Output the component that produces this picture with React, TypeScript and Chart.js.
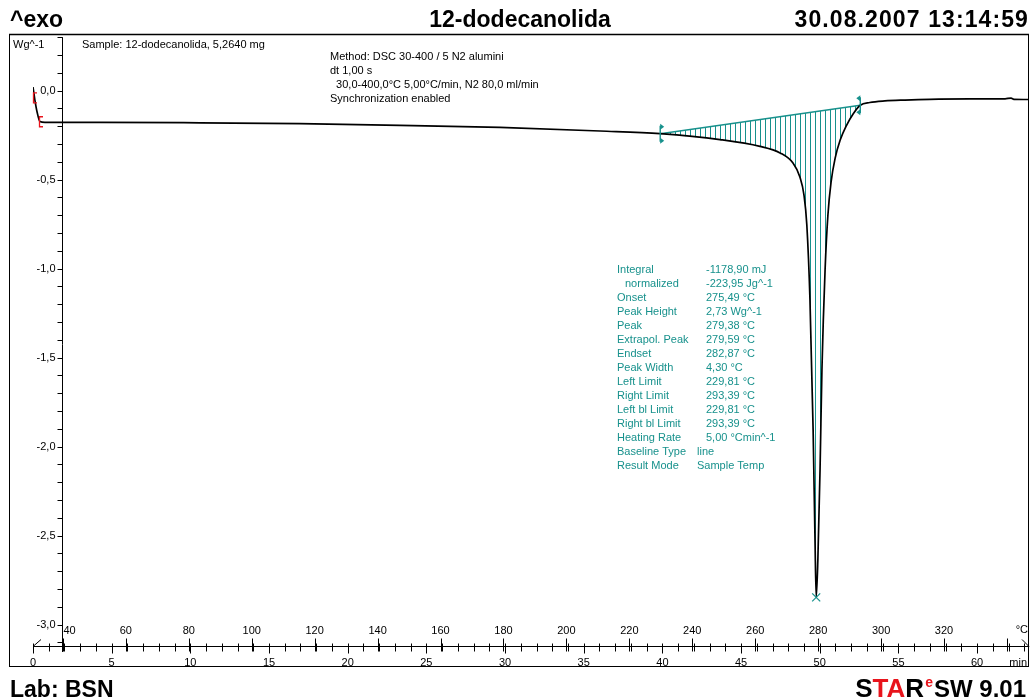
import { useEffect, useRef } from "react";
import { Chart, registerables } from "chart.js";

Chart.register(...registerables);

// DSC run: sample temperature (°C) against specific heat flow (W/g)
const temperatureC = [
  30.5, 31.1, 31.8, 32.7, 34.3, 51.8, 83.6, 115.3, 147.1, 178.9, 210.7, 229.81,
  248.8, 261.5, 267.9, 272.0, 274.2, 275.5, 276.4, 277.4, 278.4, 279.0, 279.38,
  279.9, 280.6, 281.2, 282.2, 283.1, 284.1, 285.4, 287.0, 288.9, 291.1, 293.39,
  296.4, 301.2, 307.6, 315.5, 328.2, 339.4, 341.3, 342.2, 347.0,
];
const heatFlowWg = [
  0.02, -0.053, -0.12, -0.174, -0.179, -0.178, -0.181, -0.186, -0.195, -0.207,
  -0.227, -0.242, -0.275, -0.313, -0.35, -0.407, -0.485, -0.587, -0.755, -1.176,
  -1.906, -2.524, -2.847, -2.64, -2.13, -1.57, -1.008, -0.699, -0.514, -0.379,
  -0.278, -0.199, -0.131, -0.082, -0.067, -0.058, -0.053, -0.049, -0.047, -0.046,
  -0.042, -0.049, -0.05,
];

// integration limits and linear baseline
const baselineT = [229.81, 293.39];
const baselineW = [-0.242, -0.082];
const peakT = 279.38;
const peakW = -2.847;
// start-up limit marks
const startMarkT = [31.0, 33.0];

// axes
const tempMin = 30.5;
const tempMax = 347.0;
const flowMax = 0.3;
const flowMin = -3.12;
const startTempC = 30.5;
const heatingRate = 5;
const tempTickLabels = [40, 60, 80, 100, 120, 140, 160, 180, 200, 220, 240, 260, 280, 300, 320];
const minuteTickLabels = [0, 5, 10, 15, 20, 25, 30, 35, 40, 45, 50, 55, 60];
const flowTickValues = [0, -0.5, -1, -1.5, -2, -2.5, -3];
const flowTickLabels = ["0,0", "-0,5", "-1,0", "-1,5", "-2,0", "-2,5", "-3,0"];

// header, info and evaluation texts
const headerLeft = "^exo";
const headerTitle = "12-dodecanolida";
const headerDate = "30.08.2007 13:14:59";
const footerLab = "Lab: BSN";
const sampleLine = "Sample: 12-dodecanolida, 5,2640 mg";
const methodLines = [
  "Method: DSC 30-400 / 5 N2 alumini",
  "dt 1,00 s",
  "  30,0-400,0°C 5,00°C/min, N2 80,0 ml/min",
  "Synchronization enabled",
];
const resultLabels = [
  "Integral", "normalized", "Onset", "Peak Height", "Peak", "Extrapol. Peak",
  "Endset", "Peak Width", "Left Limit", "Right Limit", "Left bl Limit",
  "Right bl Limit", "Heating Rate", "Baseline Type", "Result Mode",
];
const resultValues = [
  "-1178,90 mJ", "-223,95 Jg^-1", "275,49 °C", "2,73 Wg^-1", "279,38 °C",
  "279,59 °C", "282,87 °C", "4,30 °C", "229,81 °C", "293,39 °C", "229,81 °C",
  "293,39 °C", "5,00 °Cmin^-1", "line", "Sample Temp",
];

const TEAL = "#17918c";
const RED = "#e8141c";
const SANS = '"Liberation Sans", Arial, sans-serif';

function curveAt(t: number): number {
  for (let i = 1; i < temperatureC.length; i++) {
    if (t <= temperatureC[i]) {
      const t0 = temperatureC[i - 1];
      const t1 = temperatureC[i];
      const f = (t - t0) / (t1 - t0);
      return heatFlowWg[i - 1] + f * (heatFlowWg[i] - heatFlowWg[i - 1]);
    }
  }
  return heatFlowWg[heatFlowWg.length - 1];
}

function baselineAt(t: number): number {
  const f = (t - baselineT[0]) / (baselineT[1] - baselineT[0]);
  return baselineW[0] + f * (baselineW[1] - baselineW[0]);
}

function seg(ctx: CanvasRenderingContext2D, x1: number, y1: number, x2: number, y2: number) {
  ctx.beginPath();
  ctx.moveTo(x1, y1);
  ctx.lineTo(x2, y2);
  ctx.stroke();
}

const dscDecor = {
  id: "dscDecor",
  beforeDatasetsDraw(chart: any) {
    const ctx: CanvasRenderingContext2D = chart.ctx;
    const xs = chart.scales.x;
    const ys = chart.scales.y;
    ctx.save();
    // hatched integration area
    ctx.strokeStyle = TEAL;
    ctx.lineWidth = 1;
    const n = 40;
    for (let i = 1; i < n; i++) {
      const t = baselineT[0] + ((baselineT[1] - baselineT[0]) * i) / n;
      const wb = baselineAt(t);
      const wc = curveAt(t);
      if (wc < wb) {
        const x = Math.round(xs.getPixelForValue(t)) + 0.5;
        seg(ctx, x, ys.getPixelForValue(wb), x, ys.getPixelForValue(wc));
      }
    }
    // baseline
    ctx.lineWidth = 1.4;
    seg(
      ctx,
      xs.getPixelForValue(baselineT[0]), ys.getPixelForValue(baselineW[0]),
      xs.getPixelForValue(baselineT[1]), ys.getPixelForValue(baselineW[1])
    );
    ctx.restore();
  },
  afterDraw(chart: any) {
    const ctx: CanvasRenderingContext2D = chart.ctx;
    const xs = chart.scales.x;
    const ys = chart.scales.y;
    const area = chart.chartArea;
    const px = (t: number) => xs.getPixelForValue(t);
    const py = (w: number) => ys.getPixelForValue(w);
    ctx.save();

    // frame
    ctx.strokeStyle = "#000";
    ctx.lineWidth = 1;
    ctx.strokeRect(9.5, 34.5, 1019, 632);
    ctx.lineWidth = 1.6;
    seg(ctx, 9, 34.5, 1029, 34.5);

    // y axis at 40 °C
    ctx.lineWidth = 1;
    const yAxisX = Math.round(px(40)) - 0.5;
    seg(ctx, yAxisX, area.top, yAxisX, area.bottom + 6);
    for (let k = 3; k >= -31; k--) {
      const y = Math.round(py(k / 10)) + 0.5;
      seg(ctx, yAxisX - 5, y, yAxisX, y);
    }
    ctx.fillStyle = "#000";
    ctx.font = `11px ${SANS}`;
    ctx.textAlign = "right";
    ctx.textBaseline = "middle";
    flowTickValues.forEach((v, i) => {
      ctx.fillText(flowTickLabels[i], yAxisX - 7, py(v));
    });
    ctx.textAlign = "left";
    ctx.fillText("Wg^-1", 13, 45);

    // temperature / time axis
    const axisY = Math.round(area.bottom) + 0.5;
    seg(ctx, area.left, axisY, area.right, axisY);
    seg(ctx, area.left, axisY, area.left + 8, axisY - 7);
    seg(ctx, area.right - 7, axisY - 7, area.right, axisY);
    for (let t = 40; t <= tempMax; t += 20) {
      const x = Math.round(px(t)) + 0.5;
      seg(ctx, x, axisY - 8, x, axisY + 5);
    }
    for (let m = 0; startTempC + heatingRate * m <= tempMax; m++) {
      const x = Math.round(px(startTempC + heatingRate * m)) + 0.5;
      if (m % 5 === 0) seg(ctx, x, axisY - 3, x, axisY + 7);
      else seg(ctx, x, axisY - 3, x, axisY + 5);
    }
    ctx.textBaseline = "middle";
    tempTickLabels.forEach((t, i) => {
      if (i === 0) {
        ctx.textAlign = "left";
        ctx.fillText(String(t), px(t) + 0.5, 631);
      } else {
        ctx.textAlign = "center";
        ctx.fillText(String(t), px(t), 631);
      }
    });
    ctx.textAlign = "center";
    minuteTickLabels.forEach((m) => {
      ctx.fillText(String(m), px(startTempC + heatingRate * m), 663);
    });
    ctx.textAlign = "right";
    ctx.fillText("°C", 1028, 630);
    ctx.fillText("min", 1027, 663);
    // bottom frame edge runs over the minute labels
    ctx.lineWidth = 1;
    seg(ctx, 9, 666.5, 1029, 666.5);

    // info block
    ctx.textAlign = "left";
    ctx.fillText(sampleLine, 82, 45);
    methodLines.forEach((s, i) => ctx.fillText(s, 330, 57 + i * 14));

    // evaluation results
    ctx.fillStyle = TEAL;
    resultLabels.forEach((s, i) => {
      const y = 270 + i * 14;
      ctx.fillText(s, i === 1 ? 625 : 617, y);
      ctx.fillText(resultValues[i], i >= 13 ? 697 : 706, y);
    });

    // integration limit markers
    ctx.strokeStyle = TEAL;
    ctx.fillStyle = TEAL;
    ctx.lineWidth = 1.4;
    baselineT.forEach((t, i) => {
      const x = px(t);
      const y = py(baselineW[i]);
      const dir = i === 0 ? 1 : -1;
      seg(ctx, x, y - 8, x, y + 8);
      [y - 7, y + 7].forEach((yy) => {
        ctx.beginPath();
        ctx.moveTo(x, yy - 3);
        ctx.lineTo(x + dir * 4, yy);
        ctx.lineTo(x, yy + 3);
        ctx.closePath();
        ctx.fill();
      });
    });

    // peak cross
    const pxp = px(peakT);
    const pyp = py(peakW);
    ctx.lineWidth = 1.2;
    seg(ctx, pxp - 4, pyp - 4, pxp + 4, pyp + 4);
    seg(ctx, pxp - 4, pyp + 4, pxp + 4, pyp - 4);

    // start-up markers
    ctx.strokeStyle = RED;
    ctx.lineWidth = 1.3;
    startMarkT.forEach((t) => {
      const x = Math.round(px(t)) - 1.5;
      const y = py(curveAt(t));
      ctx.beginPath();
      ctx.moveTo(x + 3.5, y - 5);
      ctx.lineTo(x, y - 5);
      ctx.lineTo(x, y + 5);
      ctx.lineTo(x + 3.5, y + 5);
      ctx.stroke();
    });

    // header
    ctx.fillStyle = "#000";
    ctx.textBaseline = "alphabetic";
    ctx.font = `bold 23px ${SANS}`;
    ctx.textAlign = "left";
    ctx.fillText(headerLeft, 10, 27);
    ctx.textAlign = "center";
    ctx.fillText(headerTitle, 520, 27);
    ctx.textAlign = "right";
    (ctx as any).letterSpacing = "1.1px";
    ctx.fillText(headerDate, 1029, 27);
    (ctx as any).letterSpacing = "0px";

    // footer
    ctx.textAlign = "left";
    ctx.fillText(footerLab, 10, 697);
    ctx.font = `bold 24px ${SANS}`;
    ctx.textAlign = "right";
    ctx.fillText("SW 9.01", 1026, 697);
    ctx.fillStyle = RED;
    ctx.font = `bold 14px ${SANS}`;
    ctx.fillText("e", 933, 687);
    ctx.font = `bold 26px ${SANS}`;
    ctx.fillStyle = "#000";
    let right = 924;
    ctx.fillText("R", right, 697);
    right -= ctx.measureText("R").width;
    ctx.fillStyle = RED;
    ctx.fillText("TA", right, 697);
    right -= ctx.measureText("TA").width;
    ctx.fillStyle = "#000";
    ctx.fillText("S", right, 697);

    ctx.restore();
  },
};

export default function App() {
  const canvasRef = useRef<HTMLCanvasElement | null>(null);

  useEffect(() => {
    const canvas = canvasRef.current;
    if (!canvas) return;
    const chart = new Chart(canvas, {
      type: "scatter",
      data: {
        datasets: [
          {
            data: temperatureC.map((t, i) => ({ x: t, y: heatFlowWg[i] })),
            showLine: true,
            borderColor: "#000",
            borderWidth: 1.7,
            pointRadius: 0,
            cubicInterpolationMode: "monotone",
          },
        ],
      },
      options: {
        responsive: false,
        animation: false,
        devicePixelRatio: 1,
        events: [],
        layout: { padding: { left: 33, right: 3, top: 37.2, bottom: 53 } },
        plugins: { legend: { display: false }, tooltip: { enabled: false } },
        scales: {
          x: { type: "linear", min: tempMin, max: tempMax, display: false },
          y: { type: "linear", min: flowMin, max: flowMax, display: false },
        },
      },
      plugins: [dscDecor],
    });
    return () => chart.destroy();
  }, []);

  return (
    <div style={{ position: "absolute", left: 0, top: 0, width: 1032, height: 699, background: "#fff" }}>
      <canvas ref={canvasRef} width={1032} height={699} style={{ display: "block" }} />
    </div>
  );
}
